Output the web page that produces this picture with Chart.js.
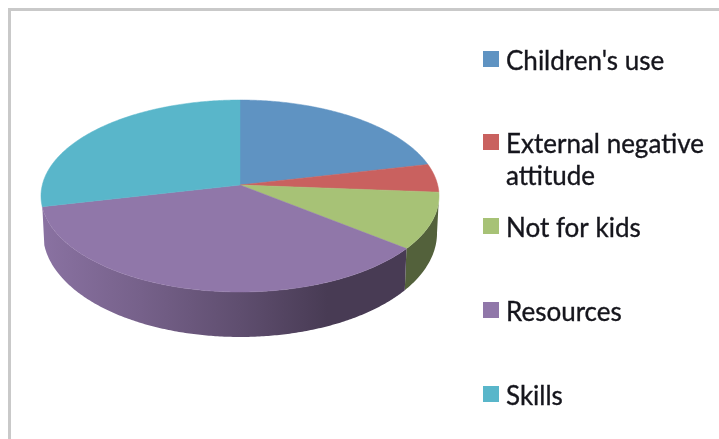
<!DOCTYPE html>
<html>
<head>
<meta charset="utf-8">
<title>Pie</title>
<style>
  body { margin: 0; background: #fff; }
  #wrap { position: relative; width: 719px; height: 439px; overflow: hidden; }
  #frame { position: absolute; left: 8px; top: 8px; width: 720px; height: 440px;
           border-top: 3px solid #c9c9c9; border-left: 3px solid #c9c9c9; }
  #grafico { position: absolute; left: 0; top: 0; }
</style>
<script src="https://cdn.jsdelivr.net/npm/chart.js@4"></script>
</head>
<body>
<div id="wrap">
  <div id="frame"></div>
  <canvas id="grafico" width="719" height="439"></canvas>
</div>
<script>
const categorias = ["Children's use", 'External negative attitude', 'Not for kids', 'Resources', 'Skills'];
const valores = [9, 2, 4, 15, 12];
const colores = ['#5f93c2', '#c9615f', '#a7c276', '#9077a9', '#59b6ca'];

// tilt of the disc: squash, perspective and the height of its side
const escalaX = 1.0686;
const escalaY = 0.512;
const perspectiva = 0.1146;
const ladoBase = 36;
const ladoExtra = 9;

// top of each legend row
const filasLeyenda = [51, 134, 218, 302, 386];
const anchoLeyenda = 205;

function proyectar(arc, ang) {
  const u = Math.cos(ang), v = Math.sin(ang), w = 1 - perspectiva * v;
  return {
    x: arc.x + escalaX * arc.outerRadius * u / w,
    y: arc.y + escalaY * arc.outerRadius * v / w,
    v: v
  };
}

function recorrer(ctx, arc, desde, hasta, inferior) {
  const pasos = Math.max(2, Math.ceil(Math.abs(hasta - desde) / 0.01));
  for (let i = 0; i <= pasos; i++) {
    const ang = inferior ? hasta + (desde - hasta) * i / pasos : desde + (hasta - desde) * i / pasos;
    const p = proyectar(arc, ang);
    const x = inferior ? arc.x + (p.x - arc.x) * 0.99 : p.x;
    const y = inferior ? p.y + ladoBase + ladoExtra * p.v : p.y;
    ctx.lineTo(x, y);
  }
}

function sombra(ctx, hex) {
  const r = parseInt(hex.slice(1, 3), 16), g = parseInt(hex.slice(3, 5), 16), b = parseInt(hex.slice(5, 7), 16);
  const grad = ctx.createLinearGradient(41, 0, 439, 0);
  [[0, 0.96], [0.25, 0.82], [0.5, 0.66], [0.72, 0.5], [1, 0.5]].forEach(([pos, f]) => {
    grad.addColorStop(pos, `rgb(${r * f | 0},${g * f | 0},${b * f | 0})`);
  });
  return grad;
}

// Draws the arcs as a tilted 3D disc, using the angles computed by the doughnut controller
const disco3d = {
  id: 'disco3d',
  beforeDatasetDraw(chart, args) {
    const ctx = chart.ctx;
    const arcos = args.meta.data;
    ctx.save();
    // side wall, only the front part can be seen
    const iniLado = Math.asin(perspectiva), finLado = Math.PI - 0.23;
    arcos.forEach((arc, i) => {
      const desde = Math.max(arc.startAngle, iniLado), hasta = Math.min(arc.endAngle, finLado);
      if (hasta <= desde) return;
      ctx.beginPath();
      recorrer(ctx, arc, desde, hasta, false);
      recorrer(ctx, arc, desde, hasta, true);
      ctx.closePath();
      ctx.fillStyle = sombra(ctx, colores[i]);
      ctx.fill();
    });
    // top face
    arcos.forEach((arc, i) => {
      ctx.beginPath();
      ctx.moveTo(arc.x, arc.y);
      recorrer(ctx, arc, arc.startAngle, arc.endAngle, false);
      ctx.closePath();
      ctx.fillStyle = colores[i];
      ctx.strokeStyle = colores[i];
      ctx.lineWidth = 0.5;
      ctx.fill();
      ctx.stroke();
    });
    ctx.restore();
    return false;
  }
};

// Legend with uneven rows and wrapped labels
const leyenda = {
  id: 'leyenda',
  afterDraw(chart) {
    const ctx = chart.ctx;
    ctx.save();
    ctx.font = '26px Lato';
    ctx.textBaseline = 'alphabetic';
    ctx.lineWidth = 0.35;
    chart.data.labels.forEach((txt, i) => {
      const y = filasLeyenda[i];
      ctx.fillStyle = colores[i];
      ctx.fillRect(483, y, 16, 16);
      ctx.fillStyle = '#15151c';
      ctx.strokeStyle = '#15151c';
      const escribir = (s, n) => {
        ctx.fillText(s, 506, y + 19 + n * 32);
        ctx.strokeText(s, 506, y + 19 + n * 32);
      };
      let linea = '', n = 0;
      txt.split(' ').forEach(pal => {
        const prueba = linea ? linea + ' ' + pal : pal;
        if (linea && ctx.measureText(prueba).width > anchoLeyenda) {
          escribir(linea, n);
          n++;
          linea = pal;
        } else {
          linea = prueba;
        }
      });
      escribir(linea, n);
    });
    ctx.restore();
  }
};

new Chart(document.getElementById('grafico').getContext('2d'), {
  type: 'pie',
  data: {
    labels: categorias,
    datasets: [{ data: valores, backgroundColor: colores, borderWidth: 0 }]
  },
  options: {
    responsive: false,
    animation: false,
    layout: { padding: { left: 41, right: 280, top: 0, bottom: 69 } },
    plugins: { legend: { display: false }, tooltip: { enabled: false } }
  },
  plugins: [disco3d, leyenda]
});
</script>
</body>
</html>
